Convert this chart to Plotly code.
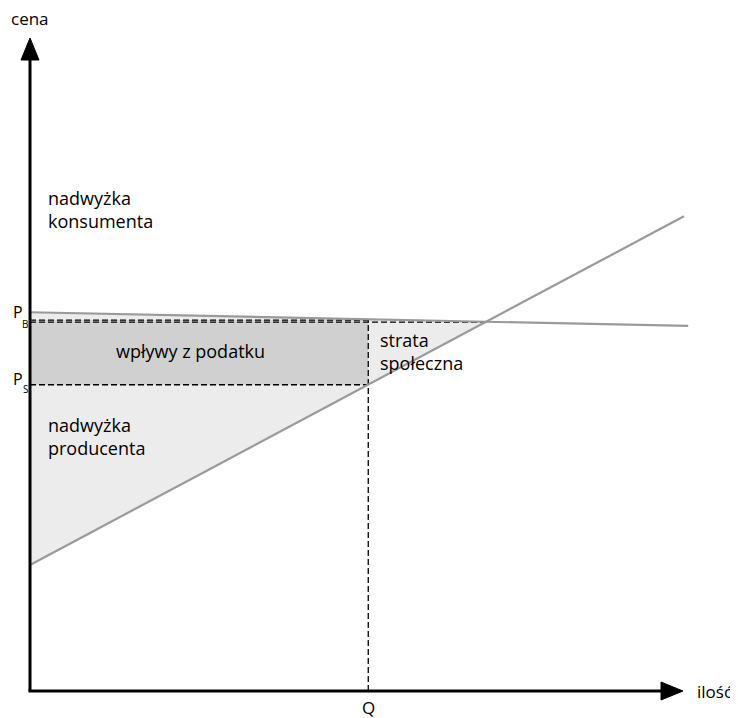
import plotly.graph_objects as go

# ---- data (arbitrary economic units) ----
supply_q = [0, 100.15]
supply_p = [19.3, 72.7]
demand_q = [0, 100.8]
demand_p = [58.0, 55.9]
Q = 51.8          # quantity under tax
P_S = 46.9        # price received by sellers
P_B = 56.8        # price paid by buyers
Q_E = 69.7        # equilibrium quantity
P_E = 56.5        # equilibrium price
axis_max = 100

labels = {
    "cena": "cena", "ilosc": "ilość", "Q": "Q",
    "P": "P", "B": "B", "S": "S",
    "kons": "nadwyżka<br>konsumenta", "prod": "nadwyżka<br>producenta",
    "tax": "wpływy z podatku", "dwl": "strata<br>społeczna",
}

SC = 6.53  # px per unit
OFF = 8    # page body margin
W, H = 738 - OFF, 718 - OFF
x0, y0 = 30 - OFF, 691 - OFF
xr = [-x0 / SC, (W - x0) / SC]
yr = [-(H - y0) / SC, y0 / SC]

fig = go.Figure()

# light fill: area between demand and supply up to equilibrium
fig.add_trace(go.Scatter(
    x=[0, Q_E, 0, 0], y=[demand_p[0], P_E, supply_p[0], demand_p[0]],
    fill="toself", fillcolor="#ececec", line=dict(width=0), mode="lines",
    hoverinfo="skip"))
# tax revenue rectangle
fig.add_trace(go.Scatter(
    x=[0, Q, Q, 0, 0], y=[P_S, P_S, P_B, P_B, P_S],
    fill="toself", fillcolor="#d0d0d0", line=dict(width=0), mode="lines",
    hoverinfo="skip"))

dash = dict(color="black", width=1.3, dash="6px,3px")
# dashed guides
fig.add_trace(go.Scatter(x=[0, Q], y=[P_B, P_B], mode="lines", line=dash, hoverinfo="skip"))
fig.add_trace(go.Scatter(x=[0, Q_E], y=[P_E, P_E], mode="lines", line=dash, hoverinfo="skip"))
fig.add_trace(go.Scatter(x=[0, Q], y=[P_S, P_S], mode="lines", line=dash, hoverinfo="skip"))
fig.add_trace(go.Scatter(x=[Q, Q], y=[0, P_B], mode="lines", line=dash, hoverinfo="skip"))

# supply & demand
gray = dict(color="#9a9a9a", width=2.2)
fig.add_trace(go.Scatter(x=demand_q, y=demand_p, mode="lines", line=gray, hoverinfo="skip"))
fig.add_trace(go.Scatter(x=supply_q, y=supply_p, mode="lines", line=gray, hoverinfo="skip"))

# axes
ah_len = 22 / SC
ah_w = 9 / SC
fig.add_trace(go.Scatter(x=[0, 0], y=[0, axis_max - ah_len], mode="lines",
                         line=dict(color="black", width=3), hoverinfo="skip"))
fig.add_trace(go.Scatter(x=[-1.5 / SC, axis_max - ah_len], y=[0, 0], mode="lines",
                         line=dict(color="black", width=3), hoverinfo="skip"))
fig.add_trace(go.Scatter(x=[-ah_w, 0, ah_w, -ah_w],
                         y=[axis_max - ah_len, axis_max, axis_max - ah_len, axis_max - ah_len],
                         fill="toself", fillcolor="black", line=dict(color="black", width=1),
                         mode="lines", hoverinfo="skip"))
fig.add_trace(go.Scatter(x=[axis_max - ah_len, axis_max, axis_max - ah_len, axis_max - ah_len],
                         y=[-ah_w, 0, ah_w, -ah_w],
                         fill="toself", fillcolor="black", line=dict(color="black", width=1),
                         mode="lines", hoverinfo="skip"))

font = dict(family="Open Sans", size=18, color="black")
def ann(x, y, text, xa="left", ya="middle", align="left", size=18):
    fig.add_annotation(x=x, y=y, text=text, showarrow=False, xanchor=xa, yanchor=ya,
                       align=align, font=dict(font, size=size))

u = 1 / SC
ann(-21 * u, 100 + 20 * u, labels["cena"], size=17)
ann(axis_max + 12 * u, 0, labels["ilosc"], size=17)
ann(Q, -16 * u, labels["Q"], xa="center", size=17)
# P_B and P_S with manual subscripts
ann(-12 * u, P_B + 8 * u, labels["P"], xa="center", size=16)
ann(-5 * u, P_B - 4 * u, labels["B"], xa="center", size=10)
ann(-12 * u, P_S + 6 * u, labels["P"], xa="center", size=16)
ann(-5 * u, P_S - 4 * u, labels["S"], xa="center", size=10)
ann(16 * u, 100 - 171 * u, labels["kons"])
ann(16 * u, P_S - 52 * u, labels["prod"])
ann(Q / 2 - 9 * u, (P_S + P_B) / 2 + 1 * u, labels["tax"], xa="center")
ann(Q + 10 * u, (P_S + P_B) / 2 + 1 * u, labels["dwl"])

fig.update_layout(
    width=W, height=H, margin=dict(l=0, r=0, t=0, b=0),
    paper_bgcolor="white", plot_bgcolor="white", showlegend=False,
    xaxis=dict(range=xr, visible=False, fixedrange=True),
    yaxis=dict(range=yr, visible=False, fixedrange=True),
)
fig.write_html("out.html")
